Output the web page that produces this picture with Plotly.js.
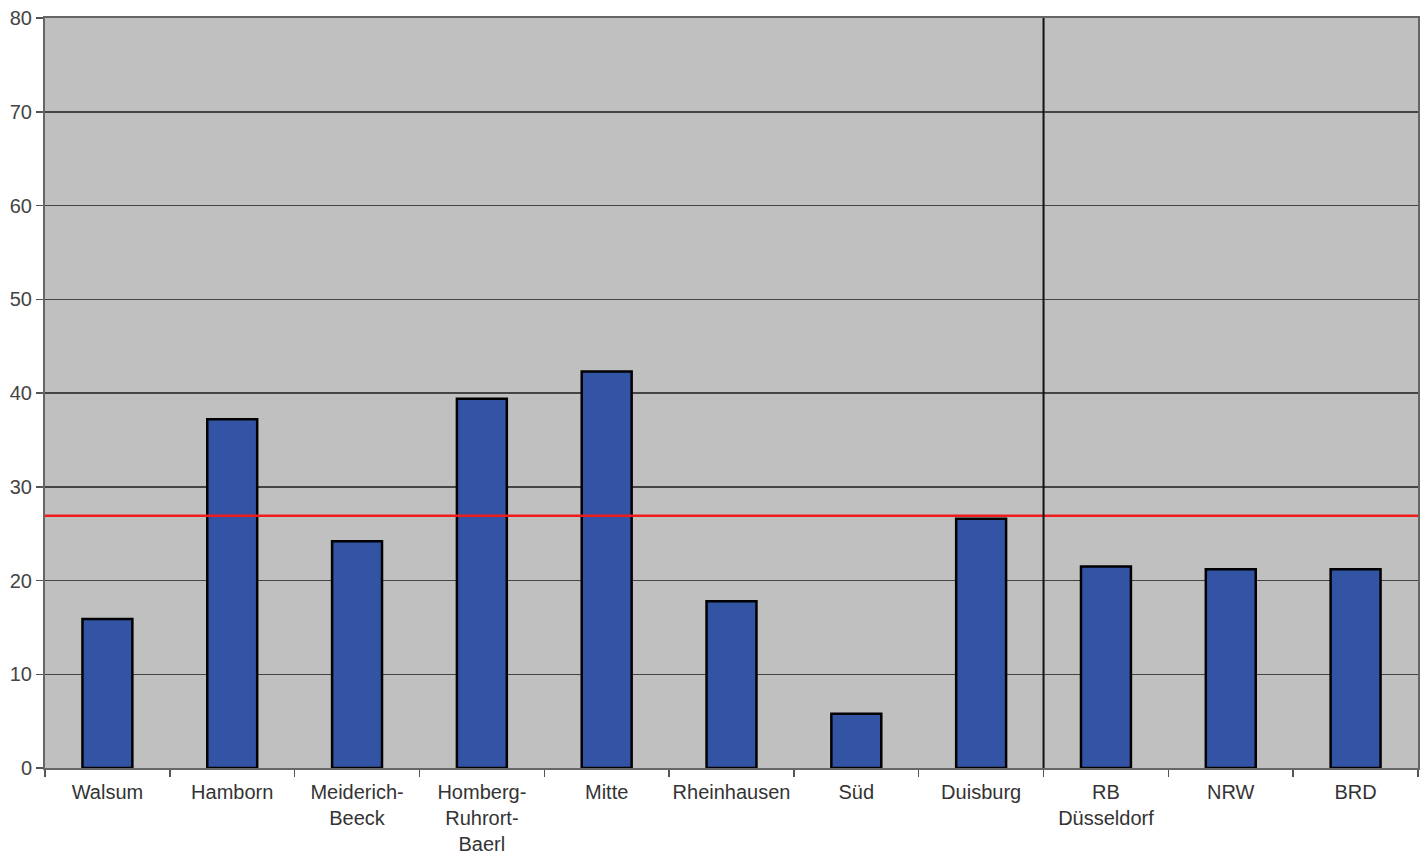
<!DOCTYPE html>
<html>
<head>
<meta charset="utf-8">
<script src="https://cdn.plot.ly/plotly-3.0.1.min.js"></script>
<style>
html,body{margin:0;padding:0;background:#fff;}
#chart{width:1425px;height:860px;}
</style>
</head>
<body>
<div id="chart"></div>
<script>
const categories = ["Walsum", "Hamborn", "Meiderich-<br>Beeck", "Homberg-<br>Ruhrort-<br>Baerl", "Mitte", "Rheinhausen", "Süd", "Duisburg", "RB<br>Düsseldorf", "NRW", "BRD"];
const values = [15.9, 37.2, 24.2, 39.4, 42.3, 17.8, 5.8, 26.6, 21.5, 21.2, 21.2];
const referenceValue = 26.9;
const separatorAfterIndex = 7;
const yTicks = [0, 10, 20, 30, 40, 50, 60, 70, 80];

const trace = {
  type: 'bar',
  x: categories,
  y: values,
  marker: {color: '#3353A5', line: {color: '#000000', width: 2.5}},
  hoverinfo: 'x+y'
};

const layout = {
  width: 1425,
  height: 860,
  margin: {l: 45, r: 7, t: 18, b: 92, pad: 0},
  paper_bgcolor: '#ffffff',
  plot_bgcolor: '#c0c0c0',
  bargap: 0.6,
  showlegend: false,
  font: {family: 'Liberation Sans, Arial, sans-serif', color: '#333333', size: 20},
  xaxis: {
    type: 'category',
    tickangle: 0,
    ticks: 'outside',
    tickson: 'boundaries',
    ticklen: 7,
    tickwidth: 1.5,
    tickcolor: '#555555',
    ticklabelstandoff: 5,
    showline: true,
    linecolor: '#666666',
    linewidth: 2,
    mirror: true,
    showgrid: false,
    tickfont: {size: 20, color: '#333333'}
  },
  yaxis: {
    range: [0, 80],
    tickvals: yTicks,
    ticks: 'outside',
    ticklen: 7,
    tickwidth: 1.5,
    tickcolor: '#555555',
    showline: true,
    linecolor: '#666666',
    linewidth: 2,
    mirror: true,
    showgrid: true,
    gridcolor: '#444444',
    gridwidth: 1.5,
    zeroline: false,
    tickfont: {size: 20, color: '#444444'}
  },
  shapes: [
    {type: 'line', xref: 'paper', yref: 'y', x0: 0, x1: 1, y0: referenceValue, y1: referenceValue,
     line: {color: '#ee1c1c', width: 2.5}, layer: 'above'},
    {type: 'line', xref: 'x', yref: 'paper', x0: separatorAfterIndex + 0.5, x1: separatorAfterIndex + 0.5, y0: 0, y1: 1,
     line: {color: '#111111', width: 2}, layer: 'above'}
  ]
};

Plotly.newPlot('chart', [trace], layout, {displayModeBar: false, staticPlot: true});
</script>
</body>
</html>
